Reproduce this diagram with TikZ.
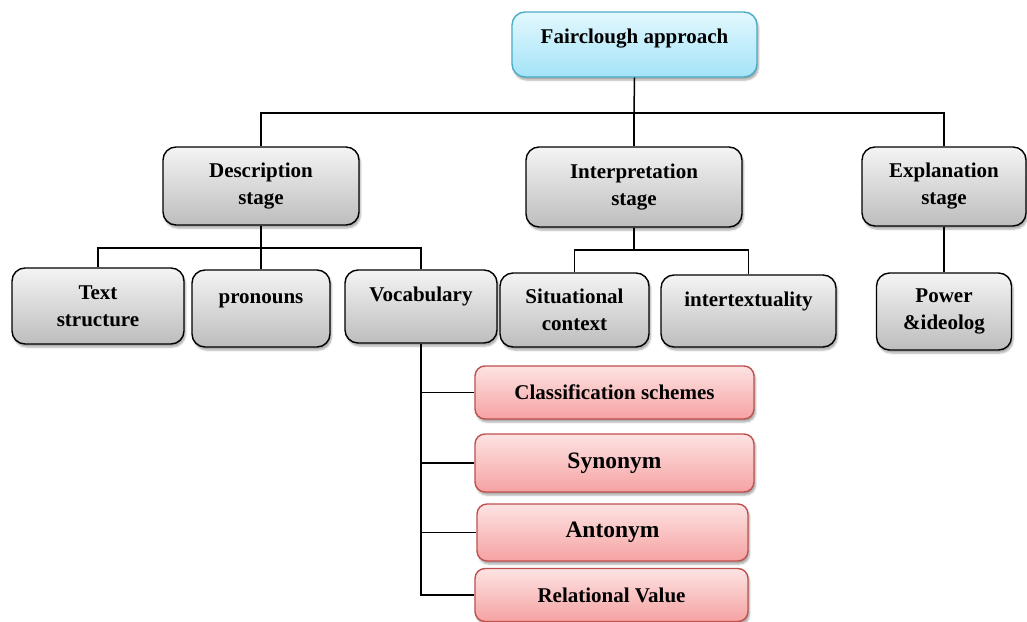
\documentclass[tikz,border=0pt]{standalone}
\usepackage{fontspec}
\setmainfont{Liberation Serif}
\usetikzlibrary{shadows.blur}
\definecolor{rootTop}{HTML}{E3F8FE}
\definecolor{rootBottom}{HTML}{A3E3F8}
\definecolor{rootLine}{HTML}{4BACC6}
\definecolor{stageTop}{HTML}{F4F4F4}
\definecolor{stageBottom}{HTML}{BDBDBD}
\definecolor{itemTop}{HTML}{FDE3E3}
\definecolor{itemBottom}{HTML}{F6A2A2}
\definecolor{itemLine}{HTML}{C0504D}

\begin{document}
\begin{tikzpicture}[x=1pt,y=-1pt,
    font=\fontsize{21}{27}\selectfont\bfseries,
    box/.style={draw,rounded corners=13pt,line width=1.4pt,inner sep=0pt,align=center,
        blur shadow={shadow xshift=1.5pt,shadow yshift=-3pt,shadow opacity=35}},
    rootbox/.style={box,draw=rootLine,top color=rootTop,bottom color=rootBottom},
    stagebox/.style={box,top color=stageTop,bottom color=stageBottom},
    itembox/.style={box,rounded corners=10pt,draw=itemLine,top color=itemTop,bottom color=itemBottom},
    highline/.style={text height=15pt,text depth=25pt},
    bigger/.style={font=\fontsize{23.5}{28}\selectfont\bfseries},
    link/.style={line width=1.5pt}]
    \useasboundingbox (0,0) rectangle (1027,621);

    \node[rootbox,minimum width=245pt,minimum height=65pt,text height=15pt,text depth=18pt]
        (root) at (634.5,44.5) {Fairclough approach};

    \node[stagebox,minimum width=196pt,minimum height=78pt]
        (description) at (261,186) {Description\\stage};
    \node[stagebox,minimum width=216pt,minimum height=80pt]
        (interpretation) at (634,187) {Interpretation\\stage};
    \node[stagebox,minimum width=164pt,minimum height=79pt]
        (explanation) at (944,186.5) {Explanation\\stage};

    \node[stagebox,minimum width=172pt,minimum height=76pt]
        (text-structure) at (98,306) {Text\\structure};
    \node[stagebox,highline,minimum width=138pt,minimum height=77pt]
        (pronouns) at (261,308.5) {pronouns};
    \node[stagebox,highline,minimum width=152pt,minimum height=73pt]
        (vocabulary) at (421,306.5) {Vocabulary};
    \node[stagebox,minimum width=149pt,minimum height=74pt]
        (situational) at (574.5,310) {Situational\\context};
    \node[stagebox,highline,minimum width=175pt,minimum height=72pt]
        (intertextuality) at (748.5,311) {intertextuality};
    \node[stagebox,minimum width=135pt,minimum height=77pt]
        (power) at (944,311.5) {Power\\\&ideolog};

    \node[itembox,minimum width=279pt,minimum height=53pt]
        (classification) at (614.5,392.5) {Classification schemes};
    \node[itembox,bigger,minimum width=279pt,minimum height=58pt]
        (synonym) at (614.5,463) {Synonym};
    \node[itembox,bigger,minimum width=271pt,minimum height=57pt]
        (antonym) at (612.5,532.5) {Antonym};
    \node[itembox,minimum width=273pt,minimum height=53pt]
        (relational) at (611.5,595) {Relational Value};

    \coordinate (top-bus) at (634,113);
    \draw[link] (root.south) -- (top-bus);
    \draw[link] (top-bus) -| (description.north);
    \draw[link] (top-bus) -- (interpretation.north);
    \draw[link] (top-bus) -| (explanation.north);

    \coordinate (description-bus) at (261,248);
    \draw[link] (description.south) -- (description-bus) -| (text-structure.north);
    \draw[link] (description-bus) -- (pronouns.north);
    \draw[link] (description-bus) -| (vocabulary.north);

    \coordinate (interpretation-bus) at (634,250);
    \draw[link] (interpretation.south) -- (interpretation-bus) -| (situational.north);
    \draw[link] (interpretation-bus) -| (intertextuality.north);

    \draw[link] (explanation.south) -- (power.north);

    \foreach \leaf in {classification,synonym,antonym,relational}
        \draw[link] (vocabulary.south) |- (\leaf.west);
\end{tikzpicture}
\end{document}
